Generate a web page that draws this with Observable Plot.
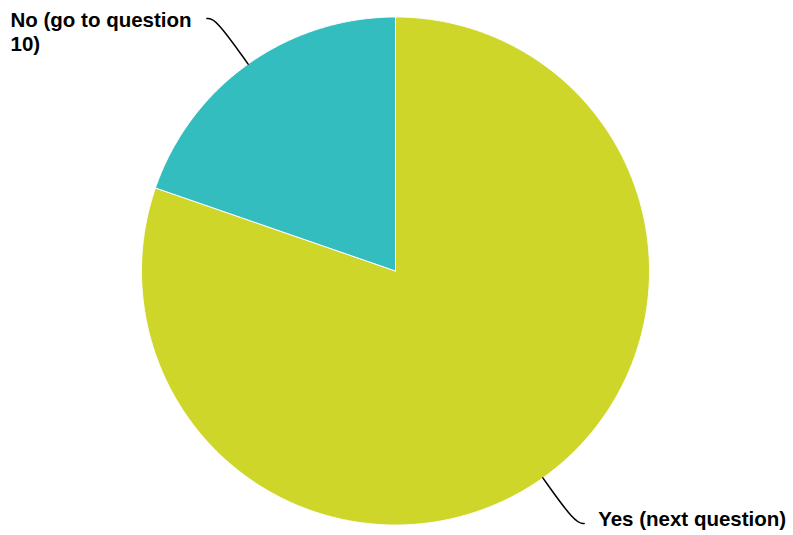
<!DOCTYPE html>
<html><head><meta charset="utf-8">
<script src="https://cdn.jsdelivr.net/npm/d3@7"></script>
<script src="https://cdn.jsdelivr.net/npm/@observablehq/plot@0.6"></script>
<style>body{margin:0;background:#fff}</style>
</head><body><div id="chart"></div>
<script>
const categories = ["Yes (next question)", "No (go to question 10)"];
const values = [80.3, 19.7];
const colors = ["#CFD62A", "#33BDBE"];
const labelTexts = ["Yes (next question)", "No (go to question\n10)"];

const pie = d3.pie().sort(null).value(d => d.value)(
  categories.map((c, i) => ({category: c, value: values[i], label: labelTexts[i]}))
);

const slicePts = [];
const leaderPts = [];
const labelRows = [];
pie.forEach(s => {
  const c = s.data.category;
  const n = Math.max(2, Math.ceil((s.endAngle - s.startAngle) / 0.005));
  slicePts.push({category: c, u: 0, v: 0});
  for (let k = 0; k <= n; k++) {
    const a = s.startAngle + (s.endAngle - s.startAngle) * k / n;
    slicePts.push({category: c, u: Math.sin(a), v: Math.cos(a)});
  }
  slicePts.push({category: c, u: 0, v: 0});
  const m = (s.startAngle + s.endAngle) / 2;
  const side = Math.sin(m) >= 0 ? 1 : -1;
  const r2 = 1.22;
  const e = {u: r2 * Math.sin(m) + side * 0.035, v: r2 * Math.cos(m)};
  leaderPts.push({category: c, u: Math.sin(m), v: Math.cos(m)});
  leaderPts.push({category: c, u: r2 * Math.sin(m), v: r2 * Math.cos(m)});
  leaderPts.push({category: c, ...e});
  labelRows.push({category: c, label: s.data.label, side, ...e});
});

const font = "'Liberation Sans', Arial, sans-serif";
const chart = Plot.plot({
  width: 793,
  height: 535,
  margin: 0,
  style: {background: "#fff", fontFamily: font},
  x: {domain: [-395 / 254, 398 / 254], axis: null},
  y: {domain: [-(535 - 270.5) / 254, 270.5 / 254], axis: null},
  color: {domain: categories, range: colors},
  marks: [
    Plot.line(slicePts, {x: "u", y: "v", z: "category", fill: "category", stroke: "white", strokeWidth: 1, curve: "linear"}),
    Plot.line(leaderPts, {x: "u", y: "v", z: "category", stroke: "black", strokeWidth: 1.5, curve: "basis"}),
    Plot.text(labelRows.filter(d => d.side > 0), {x: "u", y: "v", text: "label", textAnchor: "start", dx: 14, dy: -4, fontSize: 20.5, fontWeight: "bold", fill: "black"}),
    Plot.text(labelRows.filter(d => d.side < 0), {text: "label", frameAnchor: "top-left", textAnchor: "start", lineAnchor: "top", dx: 10, dy: 9, lineHeight: 1.17, fontSize: 20.5, fontWeight: "bold", fill: "black"})
  ]
});
document.getElementById("chart").appendChild(chart);
</script>
</body></html>
